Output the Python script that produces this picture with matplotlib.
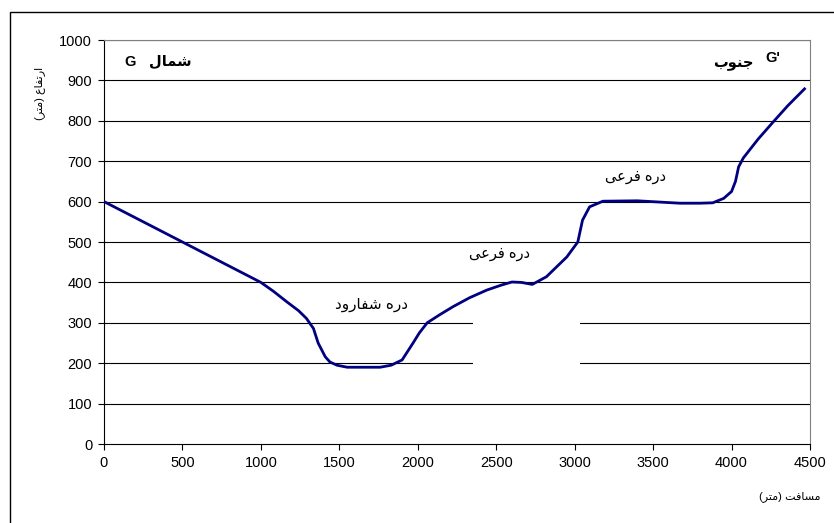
import matplotlib
matplotlib.use("Agg")
import matplotlib.pyplot as plt
from matplotlib.patches import Rectangle

# ---- data ----
distance = [0, 250, 500, 700, 870, 1000, 1080, 1165, 1240, 1290, 1335, 1365,
            1410, 1440, 1485, 1550, 1650, 1760, 1830, 1900, 1970, 2010, 2060,
            2140, 2225, 2330, 2440, 2530, 2600, 2660, 2730, 2820, 2950, 3020,
            3050, 3095, 3180, 3400, 3670, 3800, 3880, 3950, 4000, 4025, 4045,
            4075, 4170, 4265, 4360, 4465]
elevation = [600, 550, 500, 460, 426, 400, 378, 352, 330, 311, 286, 250,
             216, 203, 195, 190, 190, 190, 195, 208, 250, 275, 300,
             320, 340, 362, 381, 393, 401, 400, 395, 414, 463, 500,
             554, 587, 601, 602, 596, 596, 597, 608, 625, 650, 686,
             708, 755, 797, 838, 879]
x_ticks = [0, 500, 1000, 1500, 2000, 2500, 3000, 3500, 4000, 4500]
y_ticks = [0, 100, 200, 300, 400, 500, 600, 700, 800, 900, 1000]

# ---- simple Arabic/Persian shaping (presentation forms) ----
FORMS = {  # iso, fin, ini, med
    'ا': ('\uFE8D', '\uFE8E', None, None),
    'ب': ('\uFE8F', '\uFE90', '\uFE91', '\uFE92'),
    'ت': ('\uFE95', '\uFE96', '\uFE97', '\uFE98'),
    'ج': ('\uFE9D', '\uFE9E', '\uFE9F', '\uFEA0'),
    'د': ('\uFEA9', '\uFEAA', None, None),
    'ر': ('\uFEAD', '\uFEAE', None, None),
    'س': ('\uFEB1', '\uFEB2', '\uFEB3', '\uFEB4'),
    'ش': ('\uFEB5', '\uFEB6', '\uFEB7', '\uFEB8'),
    'ع': ('\uFEC9', '\uFECA', '\uFECB', '\uFECC'),
    'ف': ('\uFED1', '\uFED2', '\uFED3', '\uFED4'),
    'ق': ('\uFED5', '\uFED6', '\uFED7', '\uFED8'),
    'ل': ('\uFEDD', '\uFEDE', '\uFEDF', '\uFEE0'),
    'م': ('\uFEE1', '\uFEE2', '\uFEE3', '\uFEE4'),
    'ن': ('\uFEE5', '\uFEE6', '\uFEE7', '\uFEE8'),
    'ه': ('\uFEE9', '\uFEEA', '\uFEEB', '\uFEEC'),
    'و': ('\uFEED', '\uFEEE', None, None),
    'ی': ('\uFEEF', '\uFEF0', '\uFEF3', '\uFEF4'),
}


def dual(c):
    return c in FORMS and FORMS[c][2] is not None


def shape(s):
    out = []
    for i, c in enumerate(s):
        if c not in FORMS:
            out.append(c)
            continue
        prev = s[i - 1] if i > 0 else ''
        nxt = s[i + 1] if i + 1 < len(s) else ''
        jp = dual(prev)
        jn = dual(c) and nxt in FORMS
        iso, fin, ini, med = FORMS[c]
        if jp and jn:
            g = med
        elif jp:
            g = fin
        elif jn:
            g = ini
        else:
            g = iso
        out.append(g)
    out = out[::-1]
    swap = {'(': ')', ')': '('}
    return ''.join(swap.get(ch, ch) for ch in out)


FAM = ['Liberation Sans', 'DejaVu Sans']
plt.rcParams['font.family'] = FAM

fig = plt.figure(figsize=(8.34, 5.23), dpi=100)
ax = fig.add_axes([104 / 834, 1 - 444 / 523, 706 / 834, 404 / 523])

# outer frame (cropped at right/bottom)
fig.patches.append(Rectangle((10 / 834, -0.05), 1.1, 1 - 12 / 523 + 0.05,
                             transform=fig.transFigure, fill=False,
                             edgecolor='black', linewidth=1.0))

ax.set_xlim(0, 4500)
ax.set_ylim(0, 1000)
ax.set_xticks(x_ticks)
ax.set_yticks(y_ticks)
ax.tick_params(direction='out', length=4.5, width=0.8, labelsize=10.5, pad=4,
               color='black')
for t in ax.get_xticklabels() + ax.get_yticklabels():
    t.set_family(FAM)

for yv in y_ticks[1:]:
    ax.axhline(yv, color='black', linewidth=0.8, zorder=1)

# blank region hiding part of the lower grid lines
ax.add_patch(Rectangle((2352, 170), 3034 - 2352, 160, facecolor='white',
                       edgecolor='none', zorder=2))

ax.plot(distance, elevation, color='#000080', linewidth=2.0, zorder=3,
        solid_joinstyle='round')

for side in ('top', 'right'):
    ax.spines[side].set_color('#808080')
for side in ('left', 'bottom'):
    ax.spines[side].set_color('black')

ax.text(166, 945, 'G', fontsize=10.5, fontweight='bold', ha='center', va='center')
ax.text(420, 948, shape('شمال'), fontsize=10.5, fontweight='bold', ha='center',
        va='center', family=FAM)
ax.text(4264, 955, "G'", fontsize=10.5, fontweight='bold', ha='center', va='center')
ax.text(4010, 940, shape('جنوب'), fontsize=10.5, fontweight='bold', ha='center',
        va='center', family=FAM)
ax.text(1708, 344, shape('دره شفارود'), fontsize=11, ha='center', va='center',
        family=FAM)
ax.text(2524, 470, shape('دره فرعی'), fontsize=10.5, ha='center', va='center',
        family=FAM)
ax.text(3385, 661, shape('دره فرعی'), fontsize=10.5, ha='center', va='center',
        family=FAM)

fig.text(790 / 834, 1 - 497 / 523, shape('مسافت (متر)'), fontsize=8,
         ha='center', va='center', family=FAM)
fig.text(40 / 834, 1 - 93 / 523, shape('ارتفاع (متر)'), fontsize=8,
         ha='center', va='center', rotation=90, family=FAM)

fig.savefig('out.png', dpi=100)
